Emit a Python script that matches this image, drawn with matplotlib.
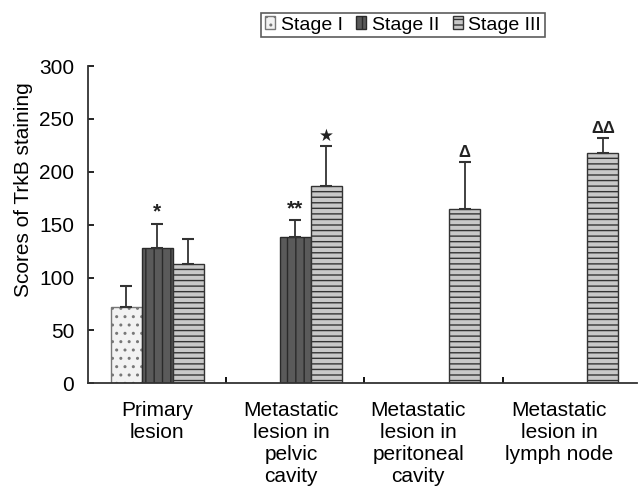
import matplotlib
matplotlib.use('Agg')
import matplotlib.pyplot as plt
import numpy as np

plt.rcParams['font.family'] = ['Liberation Sans', 'DejaVu Sans']
plt.rcParams['hatch.linewidth'] = 1.0

groups = ['Primary\nlesion', 'Metastatic\nlesion in\npelvic\ncavity',
          'Metastatic\nlesion in\nperitoneal\ncavity', 'Metastatic\nlesion in\nlymph node']
stages = ['Stage I', 'Stage II', 'Stage III']

# mean scores per stage (None = no bar)
stage1_mean = [72, None, None, None]
stage2_mean = [128, 138, None, None]
stage3_mean = [113, 187, 165, 218]
# upper error (SD)
stage1_sd = [20, None, None, None]
stage2_sd = [23, 16, None, None]
stage3_sd = [23, 37, 44, 14]
# significance marks
stage2_marks = ['*', '**', '', '']
stage3_marks = ['', '\u2605', '\u0394', '\u0394\u0394']

means = [stage1_mean, stage2_mean, stage3_mean]
sds = [stage1_sd, stage2_sd, stage3_sd]
marks = [['', '', '', ''], stage2_marks, stage3_marks]

faces = ['#f2f2f2', '#5a5a5a', '#c8c8c8']
edges = ['#777777', '#2a2a2a', '#333333']
hatches = ['..', '||', '---']

fig = plt.figure(figsize=(6.38, 4.9), dpi=100)
ax = fig.add_axes([0.138, 0.218, 0.860, 0.647])

w = 0.225
x = np.arange(len(groups))
for s in range(3):
    for g in range(len(groups)):
        m = means[s][g]
        if m is None:
            continue
        xp = x[g] + (s - 1) * w
        ax.bar(xp, m, width=w, color=faces[s], edgecolor=edges[s],
               hatch=hatches[s], linewidth=1.0, zorder=2)
        ax.errorbar(xp, m, yerr=[[0], [sds[s][g]]], fmt='none', ecolor='#333333',
                    elinewidth=1.3, capsize=4, capthick=1.5, zorder=3)
        if marks[s][g]:
            fs = 15 if '*' in marks[s][g] else 12
            ax.text(xp, m + sds[s][g] + 2, marks[s][g], ha='center', va='bottom',
                    fontsize=fs, fontweight='bold', color='#222222')

ax.set_xlim(-0.5, 3.47)
ax.set_ylim(0, 300)
ax.set_yticks(np.arange(0, 301, 50))
ax.set_xticks([0, 0.97, 1.89, 2.91])
ax.set_xticklabels(groups, fontsize=15, linespacing=1.2, va='top')
ax.set_xticks([0.5, 1.5, 2.5], minor=True)
ax.tick_params(axis='x', which='major', length=0, pad=13)
ax.tick_params(axis='x', which='minor', length=4, direction='in', width=1.3)
ax.tick_params(axis='y', labelsize=15, length=4, direction='in', width=1.2, pad=10)
for sp in ['top', 'right']:
    ax.spines[sp].set_visible(False)
for sp in ['left', 'bottom']:
    ax.spines[sp].set_linewidth(1.3)
    ax.spines[sp].set_color('#333333')

ax.set_ylabel('Scores of TrkB staining', fontsize=15)
ax.yaxis.set_label_coords(-0.1, 0.61)

handles = [plt.Rectangle((0, 0), 1, 1, facecolor=faces[i], edgecolor=edges[i], hatch=hatches[i])
           for i in range(3)]
leg = fig.legend(handles, stages, loc='center', bbox_to_anchor=(0.632, 0.949), ncol=3,
                 fontsize=14, handlelength=0.5, handleheight=0.6, handletextpad=0.3,
                 columnspacing=0.7, borderpad=0.2, frameon=True, fancybox=False)
leg.get_frame().set_edgecolor('#333333')
leg.get_frame().set_linewidth(1.2)

fig.savefig('out.png', dpi=100)
